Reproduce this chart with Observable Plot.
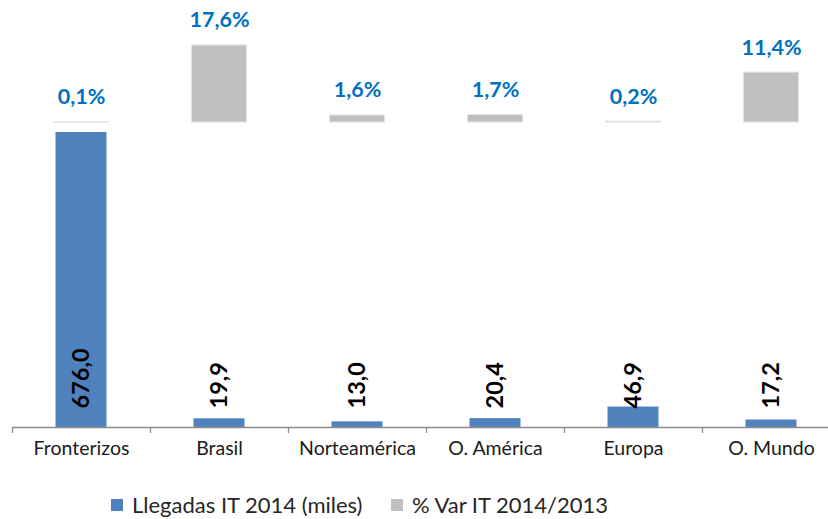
<!DOCTYPE html>
<html>
<head>
<meta charset="utf-8">
<script src="https://cdn.jsdelivr.net/npm/d3@7"></script>
<script src="https://cdn.jsdelivr.net/npm/@observablehq/plot@0.6"></script>
<style>
  html, body { margin: 0; padding: 0; background: #fff; }
  #wrap { position: relative; width: 828px; height: 519px; overflow: hidden; font-family: Lato, "Liberation Sans", sans-serif; }
  #wrap svg { position: absolute; left: 0; top: 0; overflow: visible; }
  .leg { position: absolute; top: 493px; display: flex; align-items: center; font-size: 22px; line-height: 24px; color: #262626; white-space: nowrap; }
  .sw { width: 12px; height: 12px; margin-right: 9px; }
</style>
</head>
<body>
<div id="wrap"></div>
<script>
const categories = ["Fronterizos", "Brasil", "Norteamérica", "O. América", "Europa", "O. Mundo"];
const arrivals = [676.0, 19.9, 13.0, 20.4, 46.9, 17.2];
const pctVar = [0.1, 17.6, 1.6, 1.7, 0.2, 11.4];
const seriesNames = ["Llegadas IT 2014 (miles)", "% Var IT 2014/2013"];
const colors = {arrivals: "#4F81BD", pct: "#BFBFBF", pctLabel: "#0070C0"};

const rows = categories.map((c, i) => ({cat: c, i, arr: arrivals[i], pct: pctVar[i]}));
const fmt1 = v => v.toFixed(1).replace(".", ",");

const W = 828, H = 470;
const xScale = {domain: [0, categories.length], range: [12, 840]};
const font = "Lato, 'Liberation Sans', sans-serif";

const blue = Plot.plot({
  width: W, height: H,
  marginLeft: 12, marginRight: 0, marginTop: 132, marginBottom: 43,
  x: xScale,
  y: {domain: [0, 676], axis: null},
  style: {fontFamily: font, background: "transparent", overflow: "visible"},
  marks: [
    Plot.rectY(rows, {x1: d => d.i, x2: d => d.i + 1, y1: 0, y2: "arr", fill: colors.arrivals, insetLeft: 43.5, insetRight: 43.5}),
    Plot.ruleY([0], {stroke: "#8C8C8C", strokeWidth: 1.3}),
    Plot.axisX({ticks: d3.range(categories.length + 1), tickSize: 6, tickFormat: () => "", stroke: "#8C8C8C", strokeWidth: 1.3, label: null}),
    Plot.text(rows, {x: d => d.i + 0.5, frameAnchor: "bottom", text: "cat", dy: 27, fontSize: 19.5, fill: "#1a1a1a"}),
    Plot.text(rows, {x: d => d.i + 0.5, y: 0, text: d => fmt1(d.arr), rotate: -90, textAnchor: "start", dy: -19, fontSize: 23.5, fontWeight: "bold", fill: "#000"})
  ]
});

const gray = Plot.plot({
  width: W, height: H,
  marginLeft: 12, marginRight: 0, marginTop: 45, marginBottom: 348,
  x: {...xScale, axis: null},
  y: {domain: [0, 17.6], axis: null},
  style: {fontFamily: font, background: "transparent", overflow: "visible"},
  marks: [
    Plot.rectY(rows, {x1: d => d.i, x2: d => d.i + 1, y1: 0, y2: "pct", fill: colors.pct, stroke: "#E2E2E2", strokeWidth: 1, insetLeft: 41.5, insetRight: 41.5}),
    Plot.text(rows, {x: d => d.i + 0.5, y: "pct", text: d => fmt1(d.pct) + "%", dy: -25, fontSize: 21.5, fontWeight: "bold", fill: colors.pctLabel})
  ]
});

const wrap = document.getElementById("wrap");
wrap.appendChild(blue);
wrap.appendChild(gray);

const items = [
  {name: seriesNames[0], color: colors.arrivals, left: 111},
  {name: seriesNames[1], color: colors.pct, left: 391}
];
for (const it of items) {
  const d = document.createElement("div");
  d.className = "leg";
  d.style.left = it.left + "px";
  d.innerHTML = `<span class="sw" style="background:${it.color}"></span><span>${it.name}</span>`;
  wrap.appendChild(d);
}
</script>
</body>
</html>
